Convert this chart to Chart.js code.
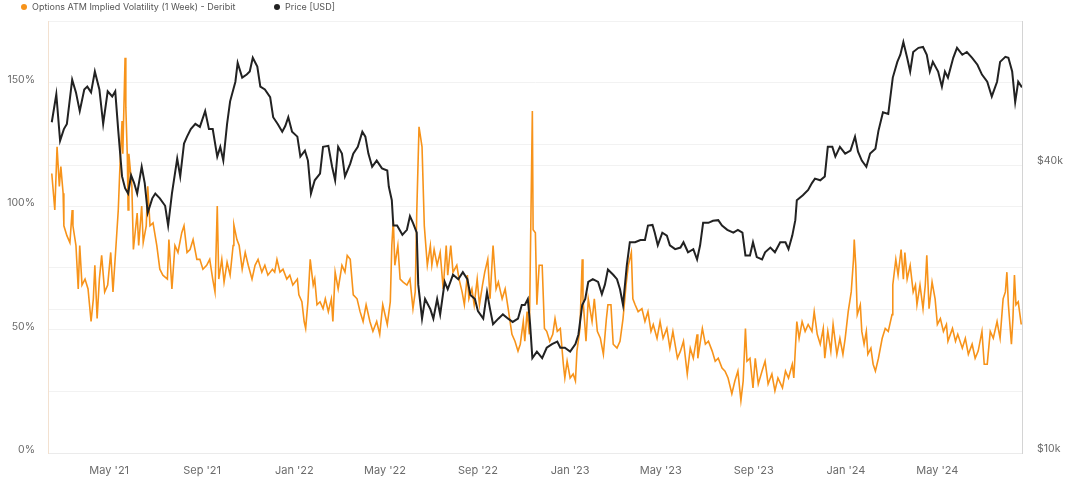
<!DOCTYPE html>
<html>
<head>
<meta charset="utf-8">
<script src="https://cdn.jsdelivr.net/npm/chart.js@4.4.1/dist/chart.umd.min.js"></script>
<style>
    html, body { margin: 0; padding: 0; background: #fff; }
    #wrap { position: relative; width: 1069px; height: 493px; }
    .lg-item { position: absolute; top: 1px; font: 9px Inter, sans-serif; color: #555; white-space: nowrap; line-height: 12px; }
    .lg-dot { display: inline-block; width: 6px; height: 6px; border-radius: 50%; margin-right: 5px; vertical-align: 0px; }
</style>
</head>
<body>
<div id="wrap">
    <div class="lg-item" style="left: 21px;"><span class="lg-dot" style="background:#f7931a;"></span>Options ATM Implied Volatility (1 Week) - Deribit</div>
    <div class="lg-item" style="left: 274px;"><span class="lg-dot" style="background:#222;"></span>Price [USD]</div>
    <canvas id="chart" width="1069" height="493"></canvas>
</div>
<script>
// Day offsets are counted from START_DATE
const START_DATE = '2021-02-09';
const END_DAY = 1289;

const tickDates = ['2021-05-01', '2021-09-01', '2022-01-01', '2022-05-01', '2022-09-01', '2023-01-01', '2023-05-01', '2023-09-01', '2024-01-01', '2024-05-01'];
const tickLabels = ["May '21", "Sep '21", "Jan '22", "May '22", "Sep '22", "Jan '23", "May '23", "Sep '23", "Jan '24", "May '24"];

// Options ATM implied volatility (1 week), %
const ivDays = [
    5, 9, 12, 15, 17, 20, 21, 25, 29, 32, 33, 37, 40, 42, 45, 49, 53, 57, 60, 62,
    65, 68, 71, 75, 79, 83, 86, 90, 93, 95, 98, 99, 102, 103, 105, 106, 107, 111, 113, 118,
    120, 124, 126, 130, 132, 135, 139, 144, 148, 152, 158, 160, 164, 168, 172, 177, 180, 184, 188, 192,
    197, 201, 205, 210, 214, 218, 221, 224, 226, 230, 233, 237, 241, 245, 246, 250, 253, 257, 261, 265,
    270, 274, 278, 283, 287, 291, 297, 300, 303, 307, 311, 316, 320, 324, 330, 332, 336, 339, 341, 344,
    347, 351, 353, 356, 360, 364, 367, 371, 375, 377, 380, 384, 389, 393, 396, 400, 404, 409, 413, 417,
    421, 426, 430, 435, 439, 443, 449, 453, 455, 457, 459, 463, 466, 470, 475, 479, 483, 486, 488, 491,
    495, 498, 502, 506, 508, 511, 515, 519, 523, 527, 529, 533, 536, 541, 544, 548, 551, 555, 557, 561,
    564, 568, 571, 575, 578, 582, 585, 589, 593, 596, 601, 605, 609, 614, 618, 622, 625, 629, 631, 634,
    637, 641, 642, 645, 647, 650, 654, 657, 660, 664, 668, 671, 674, 678, 682, 684, 687, 691, 695, 698,
    700, 704, 707, 708, 712, 715, 720, 723, 727, 731, 735, 739, 741, 745, 748, 753, 757, 761, 765, 768,
    772, 774, 777, 781, 786, 790, 794, 798, 801, 806, 810, 814, 819, 823, 827, 833, 837, 841, 846, 850,
    854, 859, 860, 866, 870, 874, 879, 883, 887, 892, 896, 900, 905, 909, 913, 917, 920, 923, 925, 929,
    933, 936, 940, 945, 949, 953, 958, 962, 966, 972, 976, 980, 985, 987, 991, 994, 998, 1002, 1006, 1011,
    1014, 1018, 1022, 1026, 1028, 1032, 1036, 1039, 1044, 1048, 1052, 1055, 1059, 1063, 1066, 1067, 1069, 1071, 1075, 1077,
    1080, 1083, 1085, 1089, 1092, 1095, 1099, 1104, 1108, 1112, 1117, 1118, 1122, 1125, 1129, 1132, 1134, 1137, 1141, 1145,
    1148, 1150, 1154, 1158, 1161, 1163, 1166, 1170, 1174, 1177, 1181, 1185, 1189, 1191, 1197, 1201, 1204, 1210, 1214, 1218,
    1223, 1227, 1231, 1236, 1239, 1243, 1247, 1251, 1256, 1260, 1264, 1267, 1269, 1271, 1275, 1277, 1279, 1281, 1284, 1288
];
const ivValues = [
    113.3, 98.5, 124.1, 108.1, 116.1, 105.3, 92.1, 88.1, 85.3, 98.5, 92.1, 84.1, 66.5, 84.1, 68.1, 70.5, 66.5, 53.3, 62.5, 76.1,
    54.5, 70.5, 80.1, 65.3, 68.1, 81.3, 65.3, 84.1, 98.5, 114.5, 134.6, 121.3, 160.2, 140.2, 120.1, 98.5, 121.3, 108.1, 82.5, 97.3,
    84.1, 100.1, 85.3, 92.1, 108.1, 92.1, 93.3, 84.1, 74.5, 72.1, 70.5, 86.5, 66.5, 84.1, 81.3, 89.3, 92.1, 81.3, 82.5, 86.5,
    78.5, 78.5, 74.5, 76.1, 78.5, 70.5, 65.3, 100.1, 70.5, 78.5, 69.3, 77.3, 72.1, 84.1, 92.5, 86.5, 84.1, 74.5, 81.3, 76.1,
    70.5, 76.1, 78.5, 73.3, 76.1, 72.1, 74.5, 73.3, 78.5, 73.3, 74.5, 70.5, 72.1, 68.1, 70.5, 64.1, 61.3, 53.3, 50.5, 61.3,
    78.5, 68.1, 70.5, 60.1, 61.3, 58.5, 62.5, 57.3, 62.5, 53.3, 73.3, 66.5, 76.1, 73.3, 80.1, 78.5, 64.1, 62.5, 57.3, 53.3,
    60.1, 53.3, 49.3, 53.3, 48.1, 60.1, 52.1, 61.3, 84.1, 94.5, 76.1, 84.1, 70.5, 69.3, 68.1, 70.5, 58.5, 65.3, 97.3, 132.2,
    124.1, 92.1, 76.1, 84.1, 76.1, 82.5, 76.1, 81.3, 66.5, 84.1, 72.1, 84.1, 73.3, 76.1, 70.5, 65.3, 60.1, 72.1, 62.5, 66.5,
    60.1, 70.5, 60.1, 68.1, 73.3, 78.5, 62.5, 84.1, 66.5, 69.3, 62.5, 66.5, 58.5, 48.1, 45.3, 41.3, 44.1, 53.3, 45.3, 57.3,
    48.1, 138.6, 90.5, 89.3, 60.1, 76.1, 76.1, 50.5, 49.3, 45.3, 48.1, 54.5, 49.3, 50.5, 36.0, 30.4, 37.2, 30.4, 32.0, 29.2,
    41.3, 50.5, 78.5, 62.5, 45.3, 62.5, 53.3, 62.5, 49.3, 46.5, 40.0, 54.5, 60.1, 60.1, 44.1, 42.5, 45.3, 54.5, 68.1, 76.1,
    81.3, 62.5, 60.1, 57.3, 58.5, 53.3, 57.3, 49.3, 52.1, 46.5, 53.3, 46.5, 50.5, 42.5, 49.3, 38.4, 41.3, 45.3, 32.0, 42.5,
    38.4, 48.1, 38.4, 50.5, 44.1, 45.3, 41.3, 37.2, 38.4, 34.4, 33.2, 30.4, 24.0, 29.2, 33.2, 21.2, 29.2, 50.5, 37.2, 38.4,
    26.4, 38.4, 28.0, 33.2, 37.2, 28.0, 32.0, 25.2, 30.4, 26.4, 33.2, 30.4, 36.0, 30.4, 53.3, 46.5, 53.3, 49.3, 52.1, 49.3,
    57.3, 48.1, 44.1, 50.5, 38.4, 49.3, 41.3, 52.1, 40.0, 46.5, 40.0, 46.5, 57.3, 65.3, 78.5, 86.5, 76.1, 56.1, 60.1, 49.3,
    44.1, 49.3, 40.0, 42.5, 36.0, 33.2, 38.4, 46.5, 50.5, 49.3, 56.1, 68.1, 78.5, 72.1, 82.5, 70.5, 81.3, 70.5, 76.1, 65.3,
    68.1, 60.1, 68.1, 58.5, 68.1, 80.1, 58.5, 69.3, 62.5, 52.1, 54.5, 49.3, 52.1, 45.3, 50.5, 45.3, 48.1, 42.5, 46.5, 40.0,
    44.1, 38.4, 41.3, 49.3, 36.0, 36.0, 49.3, 46.5, 53.3, 46.5, 62.5, 65.3, 73.3, 60.1, 44.1, 54.5, 72.1, 60.1, 61.3, 52.1
];

// Price, thousands of USD
const priceDays = [
    5, 11, 16, 21, 25, 32, 37, 42, 48, 52, 57, 62, 68, 73, 79, 85, 89, 93, 98, 102,
    106, 110, 114, 118, 124, 128, 132, 138, 142, 148, 155, 159, 164, 171, 175, 180, 184, 189, 195, 201,
    208, 213, 218, 224, 228, 232, 237, 241, 248, 251, 257, 263, 267, 271, 277, 281, 287, 294, 298, 304,
    310, 314, 318, 323, 330, 334, 340, 344, 348, 353, 360, 364, 371, 376, 380, 384, 389, 393, 400, 404,
    410, 416, 420, 424, 429, 435, 442, 449, 451, 455, 457, 462, 469, 475, 479, 483, 488, 490, 495, 499,
    506, 510, 515, 519, 525, 529, 536, 543, 549, 555, 559, 565, 569, 576, 581, 585, 589, 596, 602, 609,
    615, 622, 627, 631, 635, 638, 641, 647, 654, 660, 667, 674, 678, 684, 691, 698, 702, 707, 711, 715,
    721, 728, 733, 737, 741, 748, 753, 757, 761, 766, 770, 777, 784, 790, 794, 800, 803, 807, 813, 819,
    823, 830, 837, 841, 847, 854, 859, 863, 867, 874, 880, 887, 892, 899, 907, 913, 919, 923, 929, 933,
    938, 945, 949, 956, 962, 969, 976, 980, 985, 989, 991, 999, 1006, 1011, 1015, 1022, 1028, 1032, 1038, 1042,
    1048, 1055, 1062, 1068, 1072, 1077, 1083, 1088, 1095, 1099, 1105, 1112, 1118, 1124, 1128, 1132, 1137, 1141, 1145, 1152,
    1158, 1163, 1167, 1171, 1178, 1183, 1187, 1191, 1198, 1203, 1210, 1216, 1223, 1230, 1236, 1243, 1249, 1256, 1260, 1267,
    1271, 1276, 1280, 1284, 1289
];
const priceValues = [
    49.2, 56.3, 45.0, 47.6, 48.8, 60.4, 56.8, 51.9, 57.6, 58.4, 56.8, 62.8, 57.6, 48.8, 57.1, 55.7, 57.1, 47.2, 37.9, 35.8,
    34.9, 38.1, 36.7, 34.9, 39.7, 36.7, 31.8, 34.1, 34.9, 34.1, 32.9, 29.9, 34.9, 41.3, 37.9, 44.4, 45.9, 47.6, 48.8, 48.1,
    51.9, 47.6, 47.6, 41.7, 43.7, 40.9, 48.8, 54.4, 59.8, 65.5, 61.0, 61.9, 62.8, 67.1, 64.3, 58.4, 57.6, 55.5, 50.4, 48.8,
    47.0, 48.3, 50.4, 47.0, 45.9, 41.7, 42.9, 40.9, 34.9, 37.2, 38.4, 43.7, 43.9, 39.7, 37.2, 43.7, 42.3, 37.9, 40.3, 42.3,
    43.7, 47.0, 45.9, 42.3, 39.7, 40.9, 39.4, 39.0, 36.1, 33.8, 29.9, 29.9, 28.6, 29.3, 31.3, 30.3, 28.9, 22.5, 19.1, 21.0,
    20.0, 19.1, 21.0, 19.5, 22.8, 22.0, 23.6, 23.1, 23.9, 23.1, 21.4, 21.0, 19.8, 19.1, 21.7, 20.0, 18.6, 19.1, 19.5, 19.1,
    18.8, 19.1, 20.4, 20.4, 21.0, 18.6, 15.8, 16.3, 15.8, 16.6, 16.9, 17.1, 16.6, 16.6, 16.3, 16.9, 17.7, 20.4, 21.0, 22.8,
    23.1, 22.8, 21.5, 22.5, 24.2, 23.6, 23.1, 22.0, 20.4, 24.7, 27.6, 27.6, 27.9, 27.9, 29.9, 30.0, 28.9, 27.2, 28.9, 28.5,
    27.2, 26.7, 26.9, 27.6, 26.3, 26.7, 25.4, 27.2, 30.3, 30.3, 30.6, 30.7, 29.9, 29.3, 28.9, 29.3, 28.9, 25.9, 25.9, 27.6,
    25.7, 25.4, 26.3, 26.9, 26.3, 27.6, 27.6, 26.7, 28.5, 30.7, 33.8, 34.6, 35.5, 36.7, 37.5, 37.2, 37.9, 43.7, 43.7, 41.7,
    43.7, 42.3, 42.9, 45.9, 42.7, 40.9, 39.7, 42.3, 43.3, 47.2, 51.6, 51.2, 61.0, 65.8, 68.1, 72.4, 67.1, 62.8, 69.0, 70.4,
    70.7, 68.1, 62.8, 65.8, 62.8, 58.4, 62.8, 61.0, 67.1, 70.4, 68.1, 69.0, 67.1, 64.9, 61.9, 59.8, 55.7, 59.8, 65.8, 67.4,
    67.1, 62.8, 54.2, 59.8, 58.2
];

const pctTicks = [0, 25, 50, 75, 100, 125, 150, 175];
const priceTicks = [10000, 20000, 40000, 80000];
const priceTickLabels = { 10000: '$10k', 40000: '$40k' };

const dayOf = (d) => Math.round((Date.parse(d) - Date.parse(START_DATE)) / 86400000);
const tickDays = tickDates.map(dayOf);

const ORANGE = '#f7931a';
const TICK_FONT = { family: 'Inter', size: 10.5 };
const TICK_COLOR = '#6b6b6b';

new Chart(document.getElementById('chart'), {
    type: 'line',
    data: {
        datasets: [
            {
                label: 'Options ATM Implied Volatility (1 Week) - Deribit',
                data: ivDays.map((d, i) => ({ x: d, y: ivValues[i] })),
                borderColor: ORANGE,
                backgroundColor: ORANGE,
                borderWidth: 1.6,
                pointRadius: 0,
                tension: 0,
                yAxisID: 'y',
                order: 2
            },
            {
                label: 'Price [USD]',
                data: priceDays.map((d, i) => ({ x: d, y: priceValues[i] * 1000 })),
                borderColor: '#222222',
                backgroundColor: '#222222',
                borderWidth: 2,
                pointRadius: 0,
                tension: 0,
                yAxisID: 'y1',
                order: 1
            }
        ]
    },
    options: {
        responsive: false,
        animation: false,
        layout: { padding: { top: 16, left: 0, right: 0, bottom: 0 } },
        plugins: { legend: { display: false }, tooltip: { enabled: false } },
        scales: {
            x: {
                type: 'linear',
                min: 0,
                max: END_DAY,
                grid: { display: false, drawTicks: false },
                border: { display: true, color: '#ebebeb' },
                afterBuildTicks: s => { s.ticks = tickDays.map(v => ({ value: v })); },
                afterFit: s => { s.height = 40; },
                ticks: {
                    autoSkip: false, maxRotation: 0, padding: 11,
                    color: TICK_COLOR, font: { family: 'Inter', size: 11 },
                    callback: (v, i) => tickLabels[i]
                }
            },
            y: {
                position: 'left',
                min: 0,
                max: 175,
                grid: { color: '#f2f2f2', drawTicks: false },
                border: { display: true, color: '#f3e1d0' },
                afterBuildTicks: s => { s.ticks = pctTicks.map(v => ({ value: v })); },
                afterFit: s => { s.width = 48; },
                ticks: {
                    padding: 13, labelOffset: -3, color: TICK_COLOR, font: TICK_FONT,
                    callback: v => (v % 50 === 0 && v <= 150) ? v + '%' : ''
                }
            },
            y1: {
                type: 'logarithmic',
                position: 'right',
                min: 10000,
                max: 80000,
                grid: { color: '#f2f2f2', drawTicks: false },
                border: { display: true, color: '#d4d4d4' },
                afterBuildTicks: s => { s.ticks = priceTicks.map(v => ({ value: v })); },
                afterFit: s => { s.width = 47; },
                ticks: {
                    padding: 15, labelOffset: -4, color: TICK_COLOR, font: TICK_FONT,
                    callback: v => priceTickLabels[v] || ''
                }
            }
        }
    }
});
</script>
</body>
</html>
